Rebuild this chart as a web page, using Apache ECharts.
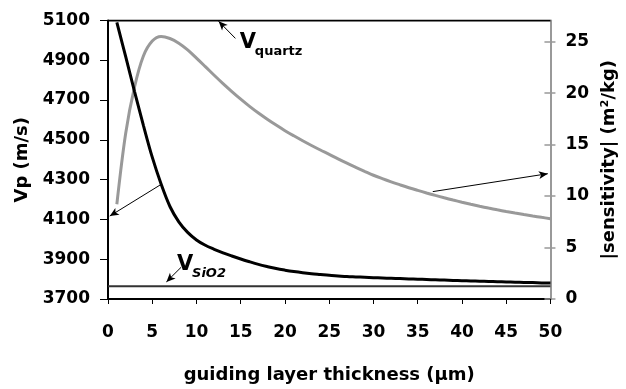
<!DOCTYPE html>
<html><head><meta charset="utf-8">
<script src="https://cdn.jsdelivr.net/npm/echarts@6/dist/echarts.min.js"></script>
<style>html,body{margin:0;padding:0;background:#fff}#c{width:626px;height:389px}</style>
</head><body><div id="c"></div>
<script>
// ---- data ----
const thickness = [1,2,3,4,5,6,7,8,9,10,11,12,13,14,15,16,17,18,19,20,21,22,23,24,25,26,27,28,29,30,31,32,33,34,35,36,37,38,39,40,41,42,43,44,45,46,47,48,49,50];
const vpValues = [5090,4918,4743,4573,4413,4278,4165,4088,4035,3997,3970,3950,3932,3916,3901,3887,3874,3863,3853,3845,3838,3832,3827,3823,3819,3816,3813,3811,3809,3807,3805.5,3804,3802.5,3801,3799.5,3798,3796.5,3795,3793.5,3792,3791,3789.5,3788,3787,3786,3784.5,3783.5,3782.5,3781,3780];
const sensValues = [9.2,16.1,20.6,23.6,25.05,25.5,25.3,24.85,24.2,23.4,22.57,21.73,20.92,20.15,19.41,18.71,18.06,17.46,16.89,16.35,15.85,15.37,14.91,14.47,14.05,13.61,13.19,12.79,12.40,12.02,11.69,11.38,11.09,10.81,10.55,10.30,10.06,9.83,9.61,9.40,9.20,9.01,8.83,8.66,8.50,8.35,8.205,8.065,7.93,7.80];
const vQuartz = 5100;
const vSiO2 = 3764;
const xRange = [0, 50];
const vpTicks = [3700,3900,4100,4300,4500,4700,4900,5100];
const sensTicks = [0,5,10,15,20,25];
const sensMax = 27.05;

const FONT = 'DejaVu Sans';
const pairs = (xs, ys) => xs.map((x, i) => [x, ys[i]]);

const chart = echarts.init(document.getElementById('c'), null, {renderer: 'canvas'});
const lbl = {fontFamily: FONT, fontWeight: 'bold', fontSize: 17, color: '#000', formatter: v => String(v)};
const titleStyle = {fontFamily: FONT, fontWeight: 'bold', fontSize: 18, color: '#000'};
const arrowLine = (from, to) => [{coord: from}, {coord: to}];
const arrowStyle = {
  silent: true, symbol: ['none', 'arrow'], symbolSize: [6, 9],
  label: {show: false}, lineStyle: {color: '#000', width: 1, type: 'solid'}
};

chart.setOption({
  animation: false,
  backgroundColor: '#fff',
  grid: {left: 108, right: 70, top: 20.5, bottom: 89, containLabel: false},
  xAxis: {
    type: 'value', min: xRange[0], max: xRange[1], interval: 5,
    name: 'guiding layer thickness (\u03bcm)', nameLocation: 'middle', nameGap: 67,
    nameTextStyle: titleStyle,
    axisLine: {onZero: false, lineStyle: {color: '#000', width: 2}},
    axisTick: {show: true, inside: false, length: 5, lineStyle: {color: '#000', width: 1}},
    axisLabel: Object.assign({margin: 25}, lbl),
    splitLine: {show: false}
  },
  yAxis: [
    {
      type: 'value', min: vpTicks[0], max: vpTicks[vpTicks.length-1], interval: 200, position: 'left',
      name: 'Vp (m/s)', nameLocation: 'middle', nameGap: 76,
      nameTextStyle: titleStyle,
      axisLine: {show: true, onZero: false, lineStyle: {color: '#000', width: 2}},
      axisTick: {show: true, length: 8, lineStyle: {color: '#000', width: 1}},
      axisLabel: Object.assign({margin: 18}, lbl),
      splitLine: {show: false}
    },
    {
      type: 'value', min: 0, max: sensMax, position: 'right',
      name: '|sensitivity| (m\u00b2/kg)', nameLocation: 'middle', nameGap: 47,
      nameTextStyle: titleStyle,
      axisLine: {show: true, onZero: false, lineStyle: {color: '#999', width: 2}},
      axisTick: {show: true, length: 5, customValues: sensTicks, lineStyle: {color: '#999', width: 1.5}},
      axisLabel: Object.assign({margin: 15, customValues: sensTicks}, lbl),
      splitLine: {show: false}
    },
    {
      type: 'value', min: 0, max: sensMax, position: 'right',
      axisLine: {show: false, onZero: false},
      axisTick: {show: true, inside: true, length: 6, customValues: sensTicks, lineStyle: {color: '#999', width: 1.5}},
      axisLabel: {show: false},
      splitLine: {show: false}
    }
  ],
  series: [
    {
      name: 'Vquartz', type: 'line', yAxisIndex: 0, showSymbol: false, symbol: 'none',
      data: [[xRange[0], vQuartz], [xRange[1], vQuartz]],
      lineStyle: {color: '#000', width: 2}, z: 3,
      markLine: Object.assign({data: [arrowLine([14.4, 5010], [12.5, 5096]), arrowLine([6.0, 4276], [0.2, 4117])]}, arrowStyle)
    },
    {
      name: 'VSiO2', type: 'line', yAxisIndex: 0, showSymbol: false, symbol: 'none',
      data: [[xRange[0], vSiO2], [xRange[1], vSiO2]],
      lineStyle: {color: '#333', width: 2}, z: 3,
      markLine: Object.assign({data: [arrowLine([8.25, 3859], [6.6, 3786])]}, arrowStyle)
    },
    {
      name: 'Vp', type: 'line', yAxisIndex: 0, showSymbol: false, symbol: 'none', smooth: 0.35,
      data: pairs(thickness, vpValues),
      lineStyle: {color: '#000', width: 3}, z: 4
    },
    {
      name: 'sensitivity', type: 'line', yAxisIndex: 1, showSymbol: false, symbol: 'none', smooth: 0.35,
      data: pairs(thickness, sensValues),
      lineStyle: {color: '#999', width: 3}, z: 2,
      markLine: Object.assign({data: [arrowLine([36.7, 10.43], [49.7, 12.17])]}, arrowStyle)
    }
  ]
});

// annotation texts placed through the chart's own scales
function place() {
  const q = chart.convertToPixel({xAxisIndex: 0, yAxisIndex: 0}, [14.9, 4936]);
  const s = chart.convertToPixel({xAxisIndex: 0, yAxisIndex: 0}, [7.8, 3822]);
  const big = {fontFamily: FONT, fontWeight: 'bold', fontSize: 21, fill: '#000', verticalAlign: 'bottom', align: 'left'};
  const small = {fontFamily: FONT, fontWeight: 'bold', fontSize: 13, fill: '#000', verticalAlign: 'bottom', align: 'left'};
  chart.setOption({
    graphic: [
      {type: 'text', x: q[0], y: q[1], style: Object.assign({text: 'V'}, big)},
      {type: 'text', x: q[0] + 15, y: q[1] + 5, style: Object.assign({text: 'quartz'}, small)},
      {type: 'text', x: s[0], y: s[1], style: Object.assign({text: 'V'}, big)},
      {type: 'text', x: s[0] + 15, y: s[1] + 5, style: Object.assign({text: 'SiO2', fontStyle: 'italic'}, small)}
    ]
  });
}
place();
</script>
</body></html>
